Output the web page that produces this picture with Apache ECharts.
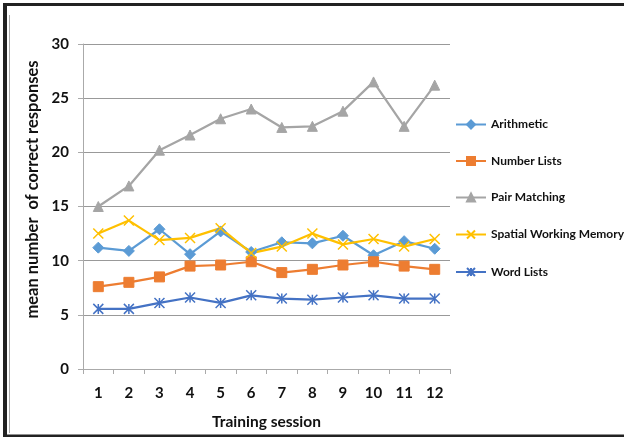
<!DOCTYPE html>
<html><head><meta charset="utf-8">
<script src="https://cdn.jsdelivr.net/npm/echarts@6/dist/echarts.min.js"></script>
<style>html,body{margin:0;padding:0;background:#fff}#c{width:624px;height:437px}</style>
</head><body><div id="c"></div>
<script>
const sessions = ['1','2','3','4','5','6','7','8','9','10','11','12'];
const arithmetic = [11.2, 10.9, 12.9, 10.6, 12.7, 10.8, 11.7, 11.6, 12.3, 10.5, 11.8, 11.1];
const numberLists = [7.6, 8.0, 8.5, 9.5, 9.6, 9.9, 8.9, 9.2, 9.6, 9.9, 9.5, 9.2];
const pairMatching = [15.0, 16.9, 20.2, 21.6, 23.1, 24.0, 22.3, 22.4, 23.8, 26.5, 22.4, 26.2];
const spatialWM = [12.5, 13.7, 11.9, 12.1, 13.0, 10.7, 11.3, 12.5, 11.5, 12.0, 11.3, 12.0];
const wordLists = [5.55, 5.55, 6.1, 6.6, 6.1, 6.8, 6.5, 6.4, 6.6, 6.8, 6.5, 6.5];
const seriesNames = ['Arithmetic','Number Lists','Pair Matching','Spatial Working Memory','Word Lists'];

const FONT = 'Lato';
const cross = 'path://M0,0L10,10M10,0L0,10';
const star = 'path://M0,0L10,10M10,0L0,10M5,0L5,10';
function mk(name, data, color, symbol, size, extra) {
  return Object.assign({
    name, type: 'line', data, symbol, symbolSize: size,
    lineStyle: { color, width: 2.25 },
    itemStyle: { color, borderColor: color, borderWidth: 1 },
    emphasis: { disabled: true }
  }, extra || {});
}
const chart = echarts.init(document.getElementById('c'), null, { renderer: 'canvas' });
chart.setOption({
  animation: false,
  textStyle: { fontFamily: FONT },
  graphic: [
    { type: 'rect', shape: { x: 3, y: 3, width: 621, height: 3 }, style: { fill: '#222' } },
    { type: 'rect', shape: { x: 3, y: 3, width: 4, height: 434 }, style: { fill: '#222' } },
    { type: 'rect', shape: { x: 3, y: 434.5, width: 621, height: 2.5 }, style: { fill: '#222' } },
    { type: 'rect', shape: { x: 9, y: 15, width: 1, height: 418 }, style: { fill: '#aaa' } }
  ],
  grid: { left: 83, right: 174, top: 44, bottom: 68, containLabel: false },
  legend: {
    orient: 'vertical', left: 450, top: 113.5, itemWidth: 30, itemHeight: 10, itemGap: 24.5,
    data: seriesNames,
    textStyle: { fontFamily: FONT, fontWeight: 'bold', fontSize: 12, color: '#111' }
  },
  xAxis: {
    type: 'category', data: sessions, boundaryGap: true,
    name: 'Training session', nameLocation: 'middle', nameGap: 45,
    nameTextStyle: { fontFamily: FONT, fontWeight: 'bold', fontSize: 15.5, color: '#111' },
    axisLine: { lineStyle: { color: '#aaa', width: 1 } },
    axisTick: { show: true, length: 5, lineStyle: { color: '#aaa' } },
    axisLabel: { fontFamily: FONT, fontWeight: 'bold', fontSize: 15, color: '#111', margin: 17 }
  },
  yAxis: {
    type: 'value', min: 0, max: 30, interval: 5,
    name: 'mean number  of correct responses', nameLocation: 'middle', nameGap: 37,
    nameTextStyle: { fontFamily: FONT, fontWeight: 'bold', fontSize: 16.5, color: '#111', padding: [0, 0, 0, 34] },
    axisLine: { show: true, lineStyle: { color: '#aaa', width: 1 } },
    axisTick: { show: true, length: 5, lineStyle: { color: '#aaa' } },
    splitLine: { lineStyle: { color: '#999', width: 1 } },
    axisLabel: { fontFamily: FONT, fontWeight: 'bold', fontSize: 15, color: '#111', margin: 14 }
  },
  series: [
    mk(seriesNames[0], arithmetic, '#5B9BD5', 'diamond', 11),
    mk(seriesNames[1], numberLists, '#ED7D31', 'rect', 10),
    mk(seriesNames[2], pairMatching, '#A5A5A5', 'triangle', 10),
    mk(seriesNames[3], spatialWM, '#FFC000', cross, 10, { itemStyle: { color: 'none', borderColor: '#FFC000', borderWidth: 1.5 } }),
    mk(seriesNames[4], wordLists, '#4472C4', star, 10, { itemStyle: { color: 'none', borderColor: '#4472C4', borderWidth: 1.5 } })
  ]
});
</script></body></html>
